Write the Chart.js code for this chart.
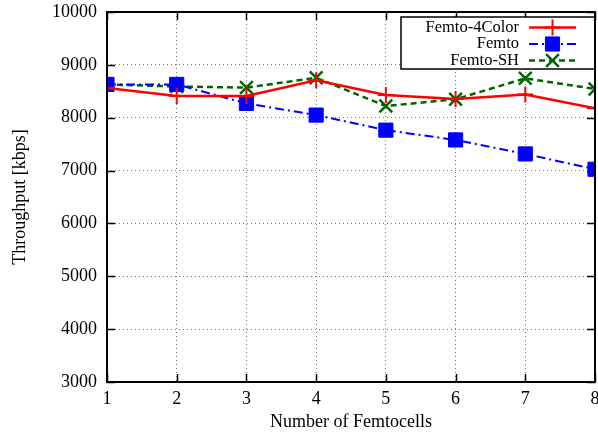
<!DOCTYPE html>
<html>
<head>
<meta charset="utf-8">
<script src="https://cdn.jsdelivr.net/npm/chart.js@4/dist/chart.umd.min.js"></script>
<style>
  html, body { margin: 0; padding: 0; background: #fff; }
  canvas { display: block; }
</style>
</head>
<body>
<canvas id="myChart" width="598" height="436"></canvas>
<script>
// data
var femtocells = [1, 2, 3, 4, 5, 6, 7, 8];
var femto4Color = [8560, 8410, 8410, 8710, 8430, 8355, 8440, 8180];
var femto = [8630, 8630, 8270, 8050, 7765, 7580, 7315, 7025];
var femtoSH = [8630, 8590, 8570, 8755, 8220, 8350, 8745, 8545];
var seriesNames = ['Femto-4Color', 'Femto', 'Femto-SH'];
var yTicks = [3000, 4000, 5000, 6000, 7000, 8000, 9000, 10000];

var FONT = 'Liberation Serif';

function toPoints(values) {
    return femtocells.map(function (x, i) { return { x: x, y: values[i] }; });
}

// gnuplot-ish frame, inward ticks and key box
var gnuplotFrame = {
    id: 'gnuplotFrame',
    beforeDatasetsDraw: function (chart) {
        var ctx = chart.ctx;
        var a = chart.chartArea;
        var xs = chart.scales.x, ys = chart.scales.y;
        ctx.save();
        ctx.strokeStyle = '#000';
        ctx.lineWidth = 1.5;
        ctx.beginPath();
        femtocells.forEach(function (v) {
            var px = Math.round(xs.getPixelForValue(v)) + 0.5;
            ctx.moveTo(px, a.bottom); ctx.lineTo(px, a.bottom - 8);
            ctx.moveTo(px, a.top); ctx.lineTo(px, a.top + 8);
        });
        yTicks.forEach(function (v) {
            var py = Math.round(ys.getPixelForValue(v)) + 0.5;
            ctx.moveTo(a.left, py); ctx.lineTo(a.left + 8, py);
            ctx.moveTo(a.right, py); ctx.lineTo(a.right - 8, py);
        });
        ctx.stroke();

        // key
        var bx = 401, by = 17, bw = 194, bh = 52;
        ctx.fillStyle = '#fff';
        ctx.fillRect(bx, by, bw, bh);
        ctx.lineWidth = 1.5;
        ctx.strokeRect(bx, by, bw, bh);
        ctx.font = '16.5px "' + FONT + '"';
        ctx.textAlign = 'right';
        ctx.textBaseline = 'middle';
        chart.data.datasets.forEach(function (ds, i) {
            var ry = 27.5 + i * 16.5;
            ctx.fillStyle = '#000';
            ctx.fillText(ds.label, 519, ry);
            ctx.save();
            ctx.strokeStyle = ds.borderColor;
            ctx.lineWidth = ds.borderWidth;
            ctx.setLineDash(ds.borderDash || []);
            ctx.beginPath();
            ctx.moveTo(529, ry); ctx.lineTo(576, ry);
            ctx.stroke();
            ctx.restore();
            ctx.save();
            ctx.fillStyle = ds.borderColor;
            ctx.strokeStyle = ds.borderColor;
            ctx.lineWidth = ds.pointBorderWidth;
            ctx.setLineDash([]);
            Chart.helpers.drawPoint(ctx, {
                pointStyle: ds.pointStyle,
                radius: ds.pointRadius,
                rotation: 0,
                borderWidth: ds.pointBorderWidth
            }, 552.5, ry);
            ctx.restore();
        });
        ctx.restore();
    },
    afterDraw: function (chart) {
        var ctx = chart.ctx;
        var a = chart.chartArea;
        ctx.save();
        ctx.strokeStyle = '#000';
        ctx.lineWidth = 2;
        ctx.strokeRect(a.left, a.top, a.right - a.left, a.bottom - a.top);
        ctx.restore();
    }
};

function createChart() {
    var ctx = document.getElementById('myChart').getContext('2d');
    return new Chart(ctx, {
        type: 'line',
        data: {
            datasets: [
                {
                    label: seriesNames[0],
                    data: toPoints(femto4Color),
                    borderColor: '#ff0000',
                    backgroundColor: '#ff0000',
                    borderWidth: 2.5,
                    pointStyle: 'cross',
                    pointRadius: 8,
                    pointBorderWidth: 2,
                    fill: false
                },
                {
                    label: seriesNames[1],
                    data: toPoints(femto),
                    borderColor: '#0000ff',
                    backgroundColor: '#0000ff',
                    borderWidth: 2,
                    borderDash: [9, 4, 2, 4],
                    pointStyle: 'rect',
                    pointRadius: 10,
                    pointBorderWidth: 1,
                    fill: false
                },
                {
                    label: seriesNames[2],
                    data: toPoints(femtoSH),
                    borderColor: '#006400',
                    backgroundColor: '#006400',
                    borderWidth: 2.5,
                    borderDash: [6, 4],
                    pointStyle: 'crossRot',
                    pointRadius: 9,
                    pointBorderWidth: 2.5,
                    fill: false
                }
            ]
        },
        options: {
            responsive: false,
            animation: false,
            devicePixelRatio: 1,
            layout: { autoPadding: false, padding: { left: 0, right: 3, top: 12, bottom: 0 } },
            plugins: { legend: { display: false }, tooltip: { enabled: false } },
            scales: {
                x: {
                    type: 'linear',
                    min: 1, max: 8,
                    afterBuildTicks: function (s) { s.ticks = femtocells.map(function (v) { return { value: v }; }); },
                    afterFit: function (s) { s.height = 54; s.paddingLeft = 0; s.paddingRight = 0; },
                    grid: { color: '#777', lineWidth: 1, drawTicks: false },
                    border: { display: false, dash: [1, 3] },
                    ticks: { color: '#000', padding: 6, maxRotation: 0, font: { family: FONT, size: 18 } },
                    title: { display: true, text: 'Number of Femtocells', color: '#000', padding: { top: 0, bottom: 3 }, font: { family: FONT, size: 18 } }
                },
                y: {
                    min: 3000, max: 10000,
                    afterBuildTicks: function (s) { s.ticks = yTicks.map(function (v) { return { value: v }; }); },
                    afterFit: function (s) { s.width = 107; s.paddingTop = 0; s.paddingBottom = 0; },
                    grid: { color: '#777', lineWidth: 1, drawTicks: false },
                    border: { display: false, dash: [1, 3] },
                    ticks: {
                        color: '#000', padding: 10, font: { family: FONT, size: 18 },
                        callback: function (v) { return String(v); }
                    },
                    title: { display: true, text: 'Throughput [kbps]', color: '#000', padding: { top: 9, bottom: 0 }, font: { family: FONT, size: 18 } }
                }
            }
        },
        plugins: [gnuplotFrame]
    });
}

createChart();
</script>
</body>
</html>
